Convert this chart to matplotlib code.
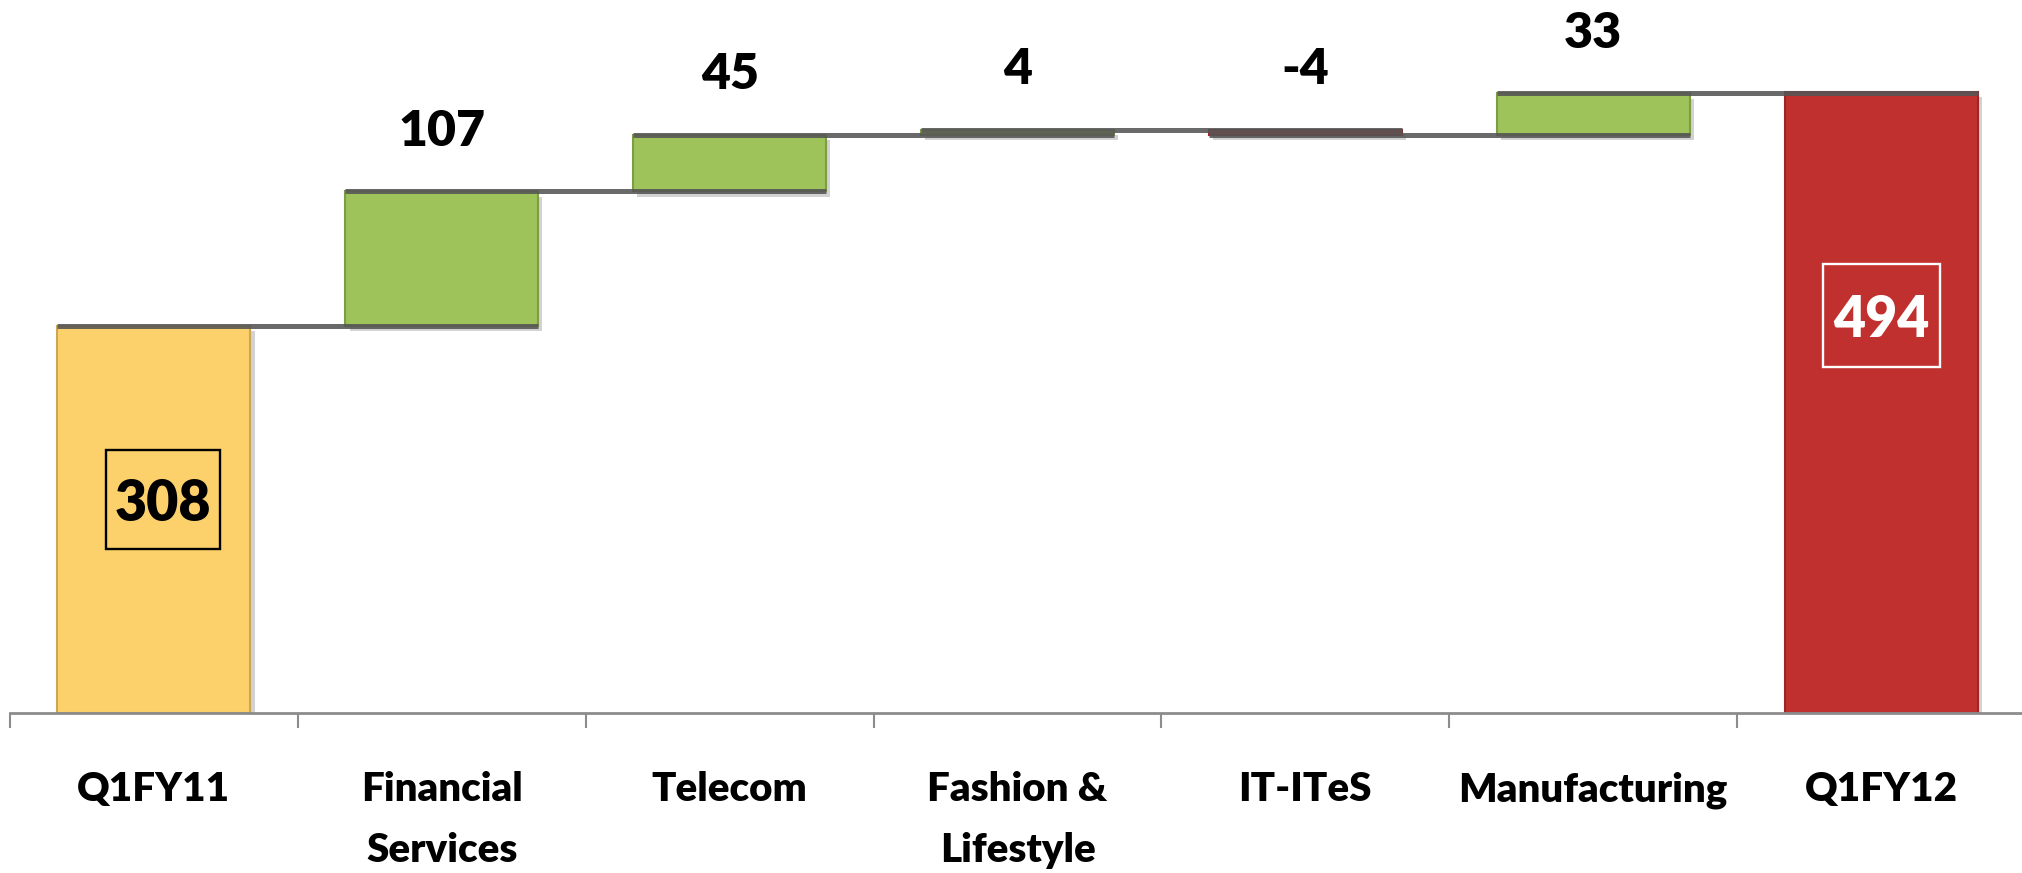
import matplotlib
matplotlib.use("Agg")
import matplotlib.pyplot as plt
import matplotlib.patheffects as pe
from matplotlib.patches import Rectangle
from matplotlib.transforms import ScaledTranslation
import numpy as np

plt.rcParams['font.family'] = ['Lato', 'DejaVu Sans']
plt.rcParams['font.weight'] = 'heavy'

# waterfall data
categories = ['Q1FY11', 'Financial\nServices', 'Telecom', 'Fashion &\nLifestyle',
              'IT-ITeS', 'Manufacturing', 'Q1FY12']
start_value = 308
changes = [107, 45, 4, -4, 33]
end_value = 494

# colours
c_start = '#FCD16B'
c_up = '#9DC35A'
c_down = '#C0302E'
c_end = '#C0302E'

width = 0.67
n = len(categories)
x = np.arange(n)

# cumulative levels after each step
levels = [start_value]
for ch in changes:
    levels.append(levels[-1] + ch)

bottoms = [0]
heights = [start_value]
colors = [c_start]
for i, ch in enumerate(changes):
    bottoms.append(min(levels[i], levels[i + 1]))
    heights.append(abs(ch))
    colors.append(c_up if ch >= 0 else c_down)
bottoms.append(0)
heights.append(end_value)
colors.append(c_end)

fig = plt.figure(figsize=(20.22, 8.73), dpi=100)
ax = fig.add_axes([10 / 2022, 160 / 873, 2015 / 2022, 713 / 873])

shadow = [pe.SimplePatchShadow(offset=(3, -4), shadow_rgbFace='#808080', alpha=0.35), pe.Normal()]
bars = ax.bar(x, heights, width=width, bottom=bottoms, color=colors, zorder=2)
for b, col in zip(bars, colors):
    rgb = np.array(matplotlib.colors.to_rgb(col)) * 0.8
    b.set_edgecolor(rgb)
    b.set_linewidth(1.5)
    b.set_path_effects(shadow)

# connector lines: each level spans from bar i to bar i+1
for i, lv in enumerate(levels):
    ax.plot([x[i] - width / 2, x[i + 1] + width / 2], [lv, lv],
            color='#555555', lw=3.6, alpha=0.88, solid_capstyle='butt', zorder=3)

# change labels above each step
for i, ch in enumerate(changes):
    top = max(levels[i], levels[i + 1])
    ax.annotate(f'{ch}', (x[i + 1], top), xytext=(0, 43), textcoords='offset points',
                ha='center', va='center', fontsize=36, color='black')


def boxed_label(cx, cy, text, color, w=1.15, h=1.0):
    # fixed-size frame (inches) around a total label
    ax.text(cx, cy, text, ha='center', va='center_baseline', fontsize=40,
            color=color, zorder=4)
    trans = fig.dpi_scale_trans + ScaledTranslation(cx, cy, ax.transData)
    ax.add_patch(Rectangle((-w / 2, -h / 2), w, h, transform=trans, fill=False,
                           edgecolor=color, lw=1.7, zorder=4, clip_on=False))


boxed_label(x[0] + 0.03, start_value * 0.55, f'{start_value}', 'black', 1.14, 0.99)
boxed_label(x[-1], end_value * 0.64, f'{end_value}', 'white', 1.17, 1.03)

ax.set_xlim(-0.5, n - 0.5)
ax.set_ylim(0, 567)

for s in ['top', 'right', 'left']:
    ax.spines[s].set_visible(False)
ax.spines['bottom'].set_color('#8c8c8c')
ax.spines['bottom'].set_linewidth(2)
ax.set_yticks([])

ax.set_xticks(x)
ax.set_xticklabels(categories, fontsize=29, linespacing=1.8)
ax.tick_params(axis='x', which='major', length=0, pad=42)
ax.set_xticks(np.arange(n + 1) - 0.5, minor=True)
ax.tick_params(axis='x', which='minor', length=11, width=1.5, color='#8c8c8c')

fig.savefig('out.png', dpi=100)
